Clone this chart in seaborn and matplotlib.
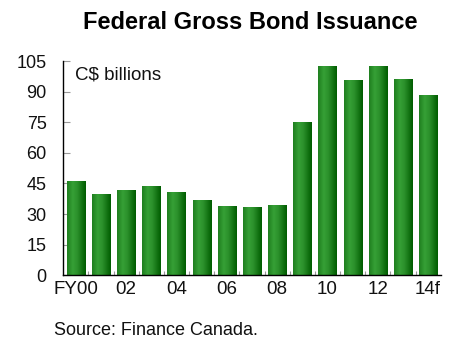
import numpy as np
import pandas as pd
import matplotlib
matplotlib.use("Agg")
import matplotlib.pyplot as plt
from matplotlib.colors import LinearSegmentedColormap
import seaborn as sns

# Fiscal years and gross bond issuance (C$ billions)
years = ["FY00", "01", "02", "03", "04", "05", "06", "07", "08",
         "09", "10", "11", "12", "13", "14f"]
issuance = [46.2, 39.8, 41.8, 43.8, 40.8, 36.9, 34.0, 33.5, 34.4,
            75.1, 102.5, 95.7, 102.5, 96.2, 88.3]
tick_labels = ["FY00", "", "02", "", "04", "", "06", "", "08",
               "", "10", "", "12", "", "14f"]
y_ticks = [0, 15, 30, 45, 60, 75, 90, 105]

df = pd.DataFrame({"year": years, "issuance": issuance})

sns.set_theme(style="white")
plt.rcParams["font.family"] = ["Liberation Sans", "DejaVu Sans"]

fig = plt.figure(figsize=(4.52, 3.39), dpi=100)
ax = fig.add_axes([0.140, 0.188, 0.835, 0.632])

sns.barplot(data=df, x="year", y="issuance", ax=ax, color="#2a8a2a",
            width=0.72, saturation=1, edgecolor="none")

# horizontal shading across each bar: mid green, light, then dark at the right
shade = LinearSegmentedColormap.from_list(
    "bar_shade", [(0.0, "#1f7f1f"), (0.3, "#36a036"), (0.55, "#2b902b"),
                  (1.0, "#005c00")])
grad = np.linspace(0, 1, 64).reshape(1, -1)
for patch in ax.patches:
    x0, y0 = patch.get_x(), patch.get_y()
    w, h = patch.get_width(), patch.get_height()
    im = ax.imshow(grad, cmap=shade, aspect="auto",
                   extent=[x0, x0 + w, y0, y0 + h], zorder=patch.get_zorder() + 0.1,
                   interpolation="bilinear")
    im.set_clip_path(patch)

ax.set_xlim(-0.5, len(years) - 0.5)
ax.set_ylim(0, 105)
ax.set_yticks(y_ticks)
ax.set_xticks(range(len(years)))
ax.set_xticklabels(tick_labels)
ax.set_xlabel("")
ax.set_ylabel("")

# minor ticks at the bar boundaries along the bottom axis
ax.set_xticks(np.arange(0.5, len(years) - 0.5, 1.0), minor=True)
ax.tick_params(axis="x", which="major", length=0, pad=4, labelsize=13.5,
               colors="#111111")
ax.tick_params(axis="x", which="minor", direction="in", length=3,
               width=0.8, color="#999999", bottom=True)
ax.tick_params(axis="y", direction="in", length=5, width=0.8, color="#999999",
               pad=12, labelsize=13, labelcolor="#111111", left=True)

for side in ["top", "right"]:
    ax.spines[side].set_visible(False)
for side in ["left", "bottom"]:
    ax.spines[side].set_color("#000000")
    ax.spines[side].set_linewidth(1.0)

ax.text(0.03, 0.975, "C$ billions", transform=ax.transAxes, ha="left", va="top",
        fontsize=13.5, color="#111111")

fig.text(0.553, 0.935, "Federal Gross Bond Issuance", ha="center", va="center",
         fontsize=17, fontweight="bold", color="#000000")
fig.text(0.119, 0.013, "Source: Finance Canada.", ha="left", va="baseline",
         fontsize=13, color="#111111")

fig.savefig("out.png", dpi=100)
